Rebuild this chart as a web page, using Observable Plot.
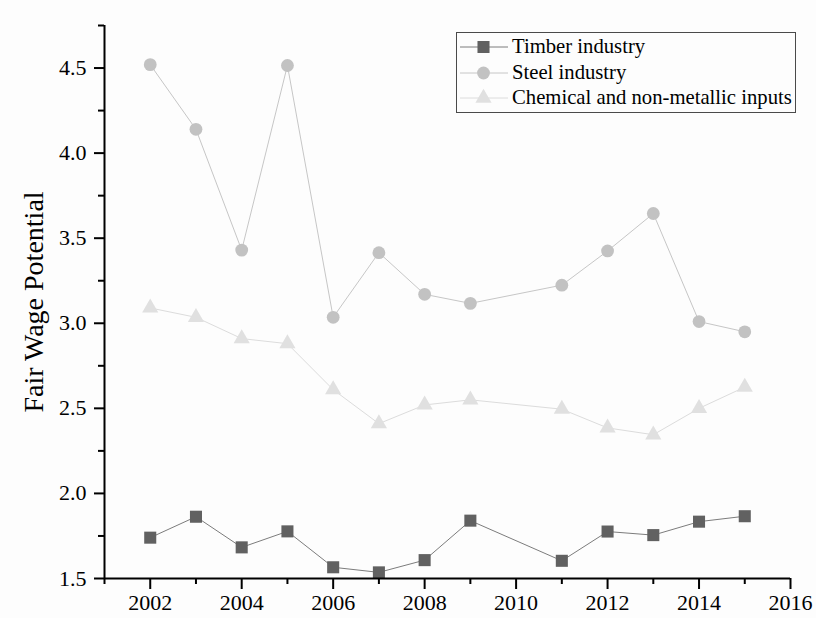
<!DOCTYPE html>
<html>
<head>
<meta charset="utf-8">
<script src="https://cdn.jsdelivr.net/npm/d3@7"></script>
<script src="https://cdn.jsdelivr.net/npm/@observablehq/plot@0.6"></script>
<style>
  html, body { margin: 0; padding: 0; background: #fdfdfd; }
  #wrap { position: relative; width: 816px; height: 618px; font-family: "Liberation Serif", "Times New Roman", serif; }
  #legend { position: absolute; left: 456px; top: 32px; width: 338px; height: 78px; border: 1px solid #4a4a4a; padding-top: 1px; box-sizing: content-box; background: transparent; }
  .row { display: flex; align-items: center; height: 25.7px; line-height: 25.7px; font-size: 20.7px; color: #000; white-space: nowrap; }
  .row svg { flex: none; margin-left: 1px; margin-right: 2px; }
</style>
</head>
<body>
<div id="wrap"><div id="chart"></div><div id="legend"></div></div>
<script>
const years = [2002, 2003, 2004, 2005, 2006, 2007, 2008, 2009, 2011, 2012, 2013, 2014, 2015];
const timber = [1.74, 1.863, 1.683, 1.777, 1.566, 1.536, 1.608, 1.84, 1.604, 1.776, 1.755, 1.834, 1.866];
const steel = [4.52, 4.14, 3.43, 4.515, 3.035, 3.415, 3.17, 3.117, 3.224, 3.425, 3.645, 3.01, 2.95];
const chemical = [3.09, 3.035, 2.91, 2.88, 2.61, 2.41, 2.52, 2.55, 2.495, 2.385, 2.345, 2.5, 2.625];

const seriesNames = ["Timber industry", "Steel industry", "Chemical and non-metallic inputs"];
const seriesValues = [timber, steel, chemical];
const seriesSymbols = ["square", "circle", "triangle"];
const markerFill = ["#616161", "#c2c2c2", "#e0e0e0"];
const lineStroke = ["#7c7c7c", "#c6c6c6", "#dcdcdc"];
const markerR = [6.8, 6.4, 6.0];

const xMajor = [2002, 2004, 2006, 2008, 2010, 2012, 2014, 2016];
const xMinor = [2001, 2003, 2005, 2007, 2009, 2011, 2013, 2015];
const yMajor = [1.5, 2.0, 2.5, 3.0, 3.5, 4.0, 4.5];
const yMinor = [1.75, 2.25, 2.75, 3.25, 3.75, 4.25, 4.75];
const yLabel = "Fair Wage Potential";

const rows = [];
seriesNames.forEach((name, i) => {
  years.forEach((yr, j) => rows.push({series: name, year: yr, value: seriesValues[i][j]}));
});

const seriesMarks = [];
seriesNames.forEach((name, i) => {
  const d = rows.filter(r => r.series === name);
  seriesMarks.push(Plot.line(d, {x: "year", y: "value", stroke: lineStroke[i], strokeWidth: 1}));
});
[2, 1, 0].forEach(i => {
  const d = rows.filter(r => r.series === seriesNames[i]);
  seriesMarks.push(Plot.dot(d, {x: "year", y: "value", symbol: () => seriesSymbols[i], r: markerR[i], fill: markerFill[i], stroke: "none"}));
});

const chart = Plot.plot({
  width: 816,
  height: 618,
  marginLeft: 104,
  marginRight: 26,
  marginTop: 25,
  marginBottom: 40,
  style: {fontFamily: "'Liberation Serif', 'Times New Roman', serif", fontSize: "22px", color: "#000", background: "transparent", overflow: "visible"},
  x: {domain: [2001, 2016]},
  y: {domain: [1.5, 4.75]},
  symbol: {type: "identity"},
  marks: [
    Plot.axisX({ticks: xMajor, tickSize: 11, tickPadding: 5, strokeWidth: 2, tickFormat: d => String(d), label: null, fontSize: 22}),
    Plot.axisX({ticks: xMinor, tickSize: 6, strokeWidth: 2, tickFormat: () => "", label: null}),
    Plot.axisY({ticks: yMajor, tickSize: 10, tickPadding: 8, strokeWidth: 2, tickFormat: d => d.toFixed(1), label: null, fontSize: 22}),
    Plot.axisY({ticks: yMinor, tickSize: 6, strokeWidth: 2, tickFormat: () => "", label: null}),
    ...seriesMarks,
    Plot.ruleX([2001], {stroke: "#000", strokeWidth: 2}),
    Plot.ruleY([1.5], {stroke: "#000", strokeWidth: 2}),
    Plot.text([yLabel], {text: d => d, frameAnchor: "left", textAnchor: "middle", rotate: -90, dx: -70, fontSize: 28, fill: "#000"})
  ]
});
document.getElementById("chart").appendChild(chart);

// legend
const legend = document.getElementById("legend");
const symbolTypes = {square: d3.symbolSquare, circle: d3.symbolCircle, triangle: d3.symbolTriangle};
seriesNames.forEach((name, i) => {
  const row = document.createElement("div");
  row.className = "row";
  const svg = d3.create("svg").attr("width", 52).attr("height", 26);
  svg.append("line").attr("x1", 2).attr("x2", 50).attr("y1", 13).attr("y2", 13).attr("stroke", lineStroke[i]).attr("stroke-width", 1);
  svg.append("path")
    .attr("transform", "translate(25.5,13)")
    .attr("d", d3.symbol(symbolTypes[seriesSymbols[i]], markerR[i] * markerR[i] * Math.PI)())
    .attr("fill", markerFill[i]);
  row.appendChild(svg.node());
  const span = document.createElement("span");
  span.textContent = name;
  row.appendChild(span);
  legend.appendChild(row);
});
</script>
</body>
</html>
